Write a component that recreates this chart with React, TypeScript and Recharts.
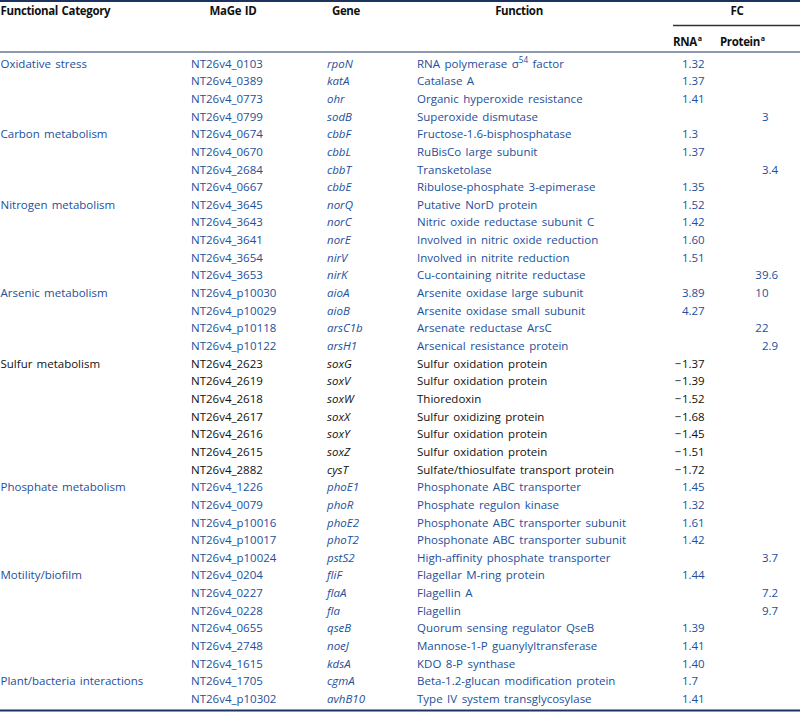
import React from "react";
import { ScatterChart, Scatter, XAxis, YAxis, ReferenceLine } from "recharts";

// ---------- data ----------
const groupNames = [
  "Oxidative stress",
  "Carbon metabolism",
  "Nitrogen metabolism",
  "Arsenic metabolism",
  "Sulfur metabolism",
  "Phosphate metabolism",
  "Motility/biofilm",
  "Plant/bacteria interactions",
];
const groupSizes = [4, 4, 5, 4, 7, 5, 6, 2];

const mageIds = [
  "NT26v4_0103", "NT26v4_0389", "NT26v4_0773", "NT26v4_0799",
  "NT26v4_0674", "NT26v4_0670", "NT26v4_2684", "NT26v4_0667",
  "NT26v4_3645", "NT26v4_3643", "NT26v4_3641", "NT26v4_3654", "NT26v4_3653",
  "NT26v4_p10030", "NT26v4_p10029", "NT26v4_p10118", "NT26v4_p10122",
  "NT26v4_2623", "NT26v4_2619", "NT26v4_2618", "NT26v4_2617", "NT26v4_2616", "NT26v4_2615", "NT26v4_2882",
  "NT26v4_1226", "NT26v4_0079", "NT26v4_p10016", "NT26v4_p10017", "NT26v4_p10024",
  "NT26v4_0204", "NT26v4_0227", "NT26v4_0228", "NT26v4_0655", "NT26v4_2748", "NT26v4_1615",
  "NT26v4_1705", "NT26v4_p10302",
];

const genes = [
  "rpoN", "katA", "ohr", "sodB",
  "cbbF", "cbbL", "cbbT", "cbbE",
  "norQ", "norC", "norE", "nirV", "nirK",
  "aioA", "aioB", "arsC1b", "arsH1",
  "soxG", "soxV", "soxW", "soxX", "soxY", "soxZ", "cysT",
  "phoE1", "phoR", "phoE2", "phoT2", "pstS2",
  "fliF", "flaA", "fla", "qseB", "noeJ", "kdsA",
  "cgmA", "avhB10",
];

const functions = [
  "RNA polymerase σ^54 factor", "Catalase A", "Organic hyperoxide resistance", "Superoxide dismutase",
  "Fructose-1.6-bisphosphatase", "RuBisCo large subunit", "Transketolase", "Ribulose-phosphate 3-epimerase",
  "Putative NorD protein", "Nitric oxide reductase subunit C", "Involved in nitric oxide reduction",
  "Involved in nitrite reduction", "Cu-containing nitrite reductase",
  "Arsenite oxidase large subunit", "Arsenite oxidase small subunit", "Arsenate reductase ArsC", "Arsenical resistance protein",
  "Sulfur oxidation protein", "Sulfur oxidation protein", "Thioredoxin", "Sulfur oxidizing protein",
  "Sulfur oxidation protein", "Sulfur oxidation protein", "Sulfate/thiosulfate transport protein",
  "Phosphonate ABC transporter", "Phosphate regulon kinase", "Phosphonate ABC transporter subunit",
  "Phosphonate ABC transporter subunit", "High-affinity phosphate transporter",
  "Flagellar M-ring protein", "Flagellin A", "Flagellin", "Quorum sensing regulator QseB",
  "Mannose-1-P guanylyltransferase", "KDO 8-P synthase",
  "Beta-1.2-glucan modification protein", "Type IV system transglycosylase",
];

const rnaFC = [
  "1.32", "1.37", "1.41", "",
  "1.3", "1.37", "", "1.35",
  "1.52", "1.42", "1.60", "1.51", "",
  "3.89", "4.27", "", "",
  "−1.37", "−1.39", "−1.52", "−1.68", "−1.45", "−1.51", "−1.72",
  "1.45", "1.32", "1.61", "1.42", "",
  "1.44", "", "", "1.39", "1.41", "1.40",
  "1.7", "1.41",
];

const proteinFC = [
  "", "", "", "3",
  "", "", "3.4", "",
  "", "", "", "", "39.6",
  "10", "", "22", "2.9",
  "", "", "", "", "", "", "",
  "", "", "", "", "3.7",
  "", "7.2", "9.7", "", "", "",
  "", "",
];

const headerLabels = ["Functional Category", "MaGe ID", "Gene", "Function", "FC", "RNA", "Protein"];

// ---------- layout ----------
const W = 800;
const H = 713;
const ROW_H = 17.65;
const BASE0 = 67.6; // baseline pixel of first data row
const pxRow = (px: number) => (px - BASE0) / ROW_H;
const Y_DOMAIN: [number, number] = [pxRow(0), pxRow(H)];

const COL = { cat: 0.5, id: 191, gene: 327, func: 417, rna: 688.5, prot: 768.5 };
const BLUE = "#1d4f9b";
const BLACK = "#111111";
const RULE = "#1b335e";
const FONT = "'Open Sans', sans-serif";
const FS = 11.5;

// ---------- build rows ----------
type Row = { idx: number; cat: string; color: string; id: string; gene: string; func: string; rna: string; prot: string };
const rows: Row[] = [];
{
  let i = 0;
  groupNames.forEach((g, gi) => {
    for (let k = 0; k < groupSizes[gi]; k++) {
      rows.push({
        idx: i,
        cat: k === 0 ? g : "",
        color: g === "Sulfur metabolism" ? BLACK : BLUE,
        id: mageIds[i],
        gene: genes[i],
        func: functions[i],
        rna: rnaFC[i],
        prot: proteinFC[i],
      });
      i++;
    }
  });
}

const colData = (key: keyof Row, x: number) =>
  rows.filter((r) => r[key] !== "").map((r) => ({ x, y: r.idx, text: r[key] as string, color: r.color }));

const renderSuper = (s: string) => {
  const m = s.match(/^(.*?)\^(\S+)(.*)$/);
  if (!m) return s;
  return (
    <>
      {m[1]}
      <tspan dy={-4.5} fontSize={FS * 0.7}>{m[2]}</tspan>
      <tspan dy={4.5}>{m[3]}</tspan>
    </>
  );
};

const textShape = (italic: boolean, spacing = 0.8) => (p: any) => {
  const { cx, cy, payload } = p;
  return (
    <text x={cx} y={cy} fill={payload.color} fontFamily={FONT} fontSize={FS} fontStyle={italic ? "italic" : "normal"} wordSpacing={spacing}>
      {renderSuper(payload.text)}
    </text>
  );
};

const decimalShape = (p: any) => {
  const { cx, cy, payload } = p;
  const parts = payload.text.split(".");
  const neg = parts[0].startsWith("−");
  const intPart = neg ? parts[0].slice(1) : parts[0];
  return (
    <g fill={payload.color} fontFamily={FONT} fontSize={FS}>
      <text x={cx} y={cy} textAnchor="end">{intPart}</text>
      {neg && <text x={cx - 7.2} y={cy} textAnchor="end">−</text>}
      {parts[1] !== undefined && <text x={cx} y={cy} textAnchor="start">{"." + parts[1]}</text>}
    </g>
  );
};

const HDR1 = pxRow(15.3);
const HDR2 = pxRow(45.5);
const headerData = [
  { x: 0.5, y: HDR1, text: headerLabels[0], anchor: "start", sup: false },
  { x: 233, y: HDR1, text: headerLabels[1], anchor: "middle", sup: false },
  { x: 346, y: HDR1, text: headerLabels[2], anchor: "middle", sup: false },
  { x: 519, y: HDR1, text: headerLabels[3], anchor: "middle", sup: false },
  { x: 737, y: HDR1, text: headerLabels[4], anchor: "middle", sup: false },
  { x: 673, y: HDR2, text: headerLabels[5], anchor: "start", sup: true },
  { x: 720, y: HDR2, text: headerLabels[6], anchor: "start", sup: true },
];

const headerShape = (p: any) => {
  const { cx, cy, payload } = p;
  return (
    <text x={cx} y={cy} textAnchor={payload.anchor} fill={BLACK} fontFamily={FONT} fontSize={FS} fontWeight={700} letterSpacing={-0.35} wordSpacing={1}>
      {payload.text}
      {payload.sup && <tspan dy={-4.5} dx={0.8} fontSize={FS * 0.62}>a</tspan>}
    </text>
  );
};

export default function App() {
  return (
    <div style={{ width: W, height: H }}>
      <style>{`body{margin:0}`}</style>
      <ScatterChart width={W} height={H} margin={{ top: 0, right: 0, bottom: 0, left: 0 }}>
        <XAxis type="number" dataKey="x" domain={[0, W]} hide />
        <YAxis type="number" dataKey="y" domain={Y_DOMAIN} reversed hide allowDataOverflow />
        <ReferenceLine y={pxRow(1)} stroke={RULE} strokeWidth={2} />
        <ReferenceLine segment={[{ x: 673, y: pxRow(25.5) }, { x: W, y: pxRow(25.5) }]} stroke="#333" strokeWidth={1.3} />
        <ReferenceLine y={pxRow(52)} stroke={RULE} strokeWidth={1} />
        <ReferenceLine y={pxRow(710.5)} stroke={RULE} strokeWidth={2.2} />
        <Scatter data={headerData} shape={headerShape} isAnimationActive={false} />
        <Scatter data={colData("cat", COL.cat)} shape={textShape(false, 1.2)} isAnimationActive={false} />
        <Scatter data={colData("id", COL.id)} shape={textShape(false)} isAnimationActive={false} />
        <Scatter data={colData("gene", COL.gene)} shape={textShape(true)} isAnimationActive={false} />
        <Scatter data={colData("func", COL.func)} shape={textShape(false, 1.5)} isAnimationActive={false} />
        <Scatter data={colData("rna", COL.rna)} shape={decimalShape} isAnimationActive={false} />
        <Scatter data={colData("prot", COL.prot)} shape={decimalShape} isAnimationActive={false} />
      </ScatterChart>
    </div>
  );
}
